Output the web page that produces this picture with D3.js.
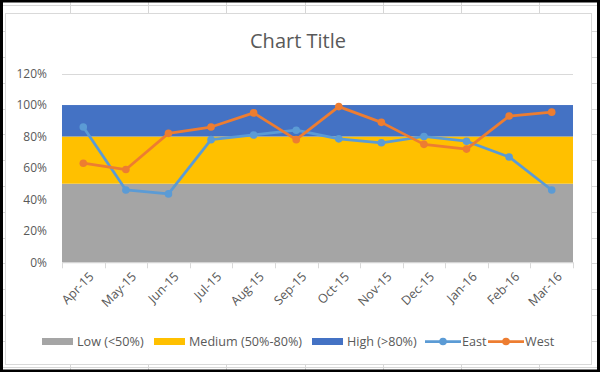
<!DOCTYPE html>
<html>
<head>
<meta charset="utf-8">
<script src="https://cdn.jsdelivr.net/npm/d3@7"></script>
<style>
  body { margin: 0; background: #fff; }
  text { font-family: "Open Sans", "Noto Sans", sans-serif; fill: #595959; }
</style>
</head>
<body>
<svg width="600" height="372"></svg>
<script>
const months = ["Apr-15","May-15","Jun-15","Jul-15","Aug-15","Sep-15","Oct-15","Nov-15","Dec-15","Jan-16","Feb-16","Mar-16"];
const east = [0.86,0.46,0.435,0.78,0.81,0.84,0.785,0.76,0.80,0.77,0.67,0.46];
const west = [0.63,0.59,0.82,0.86,0.95,0.78,0.99,0.89,0.75,0.72,0.93,0.955];
// bands
const bandNames = ["Low (<50%)", "Medium (50%-80%)", "High (>80%)"];
const bandLimits = [0, 0.5, 0.8, 1.0];
const bandColors = ["#a5a5a5", "#ffc000", "#4472c4"];
const yTicks = [0, 0.2, 0.4, 0.6, 0.8, 1.0, 1.2];

const svg = d3.select("svg");

// spreadsheet behind the chart
const sheet = svg.append("g").attr("stroke", "#d6d6d6").attr("stroke-width", 1);
for (let gx = 70; gx < 600; gx += 78.2) {
  sheet.append("line").attr("x1", Math.round(gx) + 0.5).attr("x2", Math.round(gx) + 0.5).attr("y1", 0).attr("y2", 372);
}
for (let gy = 5.4; gy < 372; gy += 25.8) {
  sheet.append("line").attr("x1", 0).attr("x2", 600).attr("y1", Math.round(gy) + 0.5).attr("y2", Math.round(gy) + 0.5);
}

// chart area
svg.append("rect").attr("x", 5.5).attr("y", 13.5).attr("width", 586).attr("height", 351)
  .attr("fill", "#fff").attr("stroke", "#d9d9d9");

const pLeft = 62, pRight = 573, pTop = 73.6, pBottom = 262.3;
const x = d3.scaleBand().domain(months).range([pLeft, pRight]);
const y = d3.scaleLinear().domain([0, 1.2]).range([pBottom, pTop]);

// gridlines
svg.append("g").selectAll("line").data(yTicks).join("line")
  .attr("x1", pLeft).attr("x2", pRight)
  .attr("y1", d => Math.round(y(d)) + 0.5).attr("y2", d => Math.round(y(d)) + 0.5)
  .attr("stroke", "#d9d9d9");

// bands
svg.append("g").selectAll("rect").data(bandColors).join("rect")
  .attr("x", pLeft).attr("width", pRight - pLeft)
  .attr("y", (d, i) => y(bandLimits[i + 1]))
  .attr("height", (d, i) => y(bandLimits[i]) - y(bandLimits[i + 1]))
  .attr("fill", d => d);

// x axis
const xAxis = svg.append("g").attr("transform", `translate(0,${pBottom})`);
xAxis.append("line").attr("x1", pLeft).attr("x2", pRight).attr("y1", 0.5).attr("y2", 0.5).attr("stroke", "#d9d9d9");
xAxis.selectAll("line.tick").data(d3.range(months.length + 1)).join("line").attr("class", "tick")
  .attr("x1", i => Math.round(pLeft + i * x.step()) + 0.5).attr("x2", i => Math.round(pLeft + i * x.step()) + 0.5)
  .attr("y1", 0).attr("y2", 6).attr("stroke", "#d9d9d9");
xAxis.selectAll("text").data(months).join("text")
  .attr("transform", d => `translate(${x(d) + x.bandwidth() / 2 + 5},${9}) rotate(-45)`)
  .attr("text-anchor", "end").attr("dy", "0.7em")
  .attr("font-size", 12.5).text(d => d);

// y labels
svg.append("g").selectAll("text").data(yTicks).join("text")
  .attr("x", 47).attr("y", d => y(d)).attr("dy", "0.35em")
  .attr("text-anchor", "end").attr("font-size", 12)
  .text(d => d3.format(".0%")(d));

// lines
const line = d3.line().x((d, i) => x(months[i]) + x.bandwidth() / 2).y(d => y(d));
[[east, "#5b9bd5"], [west, "#ed7d31"]].forEach(([vals, c]) => {
  svg.append("path").datum(vals).attr("d", line).attr("fill", "none")
    .attr("stroke", c).attr("stroke-width", 2.75).attr("stroke-linejoin", "round");
  svg.append("g").selectAll("circle").data(vals).join("circle")
    .attr("cx", (d, i) => x(months[i]) + x.bandwidth() / 2).attr("cy", d => y(d))
    .attr("r", 3.8).attr("fill", c);
});

// title
svg.append("text").attr("x", 298).attr("y", 48).attr("text-anchor", "middle")
  .attr("font-size", 20).text("Chart Title");

// legend
const lg = svg.append("g").attr("font-size", 12.6);
const legendY = 341.5;
const swatchX = [42, 154, 312];
bandNames.forEach((n, i) => {
  lg.append("rect").attr("x", swatchX[i]).attr("y", legendY - 3.5).attr("width", 31).attr("height", 7).attr("fill", bandColors[i]);
  lg.append("text").attr("x", swatchX[i] + 35).attr("y", legendY).attr("dy", "0.35em").text(n);
});
[["East", "#5b9bd5", 425], ["West", "#ed7d31", 488]].forEach(([n, c, lx]) => {
  lg.append("line").attr("x1", lx).attr("x2", lx + 36).attr("y1", legendY).attr("y2", legendY).attr("stroke", c).attr("stroke-width", 2.75);
  lg.append("circle").attr("cx", lx + 18).attr("cy", legendY).attr("r", 3.8).attr("fill", c);
  lg.append("text").attr("x", lx + 37).attr("y", legendY).attr("dy", "0.35em").text(n);
});

// screenshot frame
svg.append("rect").attr("x", 1.5).attr("y", 1).attr("width", 597).attr("height", 370)
  .attr("fill", "none").attr("stroke", "#000").attr("stroke-width", 3);
</script>
</body>
</html>
